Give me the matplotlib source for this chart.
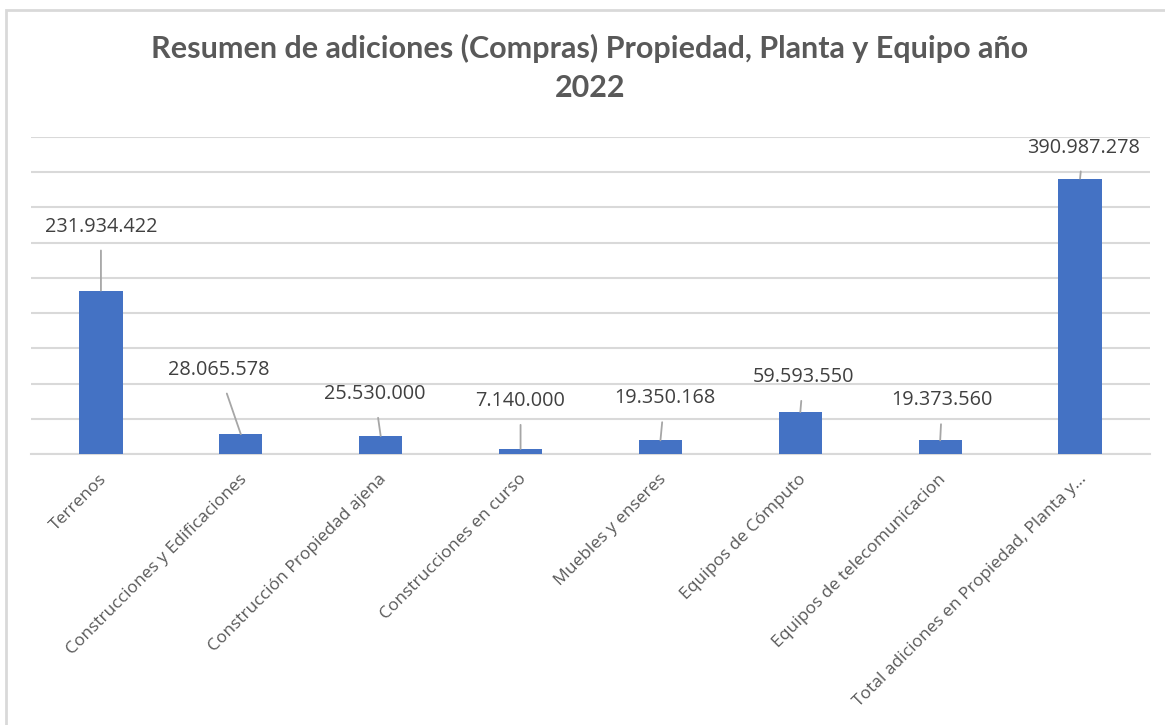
import matplotlib
matplotlib.use("Agg")
import matplotlib.pyplot as plt
import matplotlib.transforms as mtrans
from matplotlib.patches import Rectangle

categories = ["Terrenos", "Construcciones y Edificaciones", "Construcción Propiedad ajena",
              "Construcciones en curso", "Muebles y enseres", "Equipos de Cómputo",
              "Equipos de telecomunicacion", "Total adiciones en Propiedad, Planta y…"]
values = [231934422, 28065578, 25530000, 7140000, 19350168, 59593550, 19373560, 390987278]
value_labels = ["231.934.422", "28.065.578", "25.530.000", "7.140.000", "19.350.168",
                "59.593.550", "19.373.560", "390.987.278"]
title = "Resumen de adiciones (Compras) Propiedad, Planta y Equipo año\n2022"

# label offsets (pixels) from bar top: dx, dy
label_offsets = [(0, 64), (-22, 64), (-6, 42), (0, 48), (4, 42), (3, 35), (2, 40), (3, 31)]

W, H = 1165, 725
dpi = 100
fig = plt.figure(figsize=(W / dpi, H / dpi), dpi=dpi)
fig.patch.set_facecolor("white")

# outer chart border
fig.add_artist(Rectangle((6 / W, -0.1), 1.2, (H - 10) / H + 0.1, transform=fig.transFigure,
                         fill=False, edgecolor="#d9d9d9", linewidth=2))

left, right, top, bottom = 31, 1150, 137, 454
ax = fig.add_axes([left / W, 1 - bottom / H, (right - left) / W, (bottom - top) / H])
x = list(range(len(categories)))
ax.bar(x, values, width=0.31, color="#4472C4", zorder=3)
ax.set_xlim(-0.5, len(categories) - 0.5)
ax.set_ylim(0, 450_000_000)
ax.set_yticks([i * 50_000_000 for i in range(10)])
ax.yaxis.grid(True, color="#d9d9d9", linewidth=1.5, zorder=0)
ax.tick_params(axis="y", left=False, labelleft=False)
ax.tick_params(axis="x", bottom=False, length=0, pad=8)
for s in ["top", "right", "left"]:
    ax.spines[s].set_visible(False)
ax.spines["bottom"].set_color("#d9d9d9")
ax.spines["bottom"].set_linewidth(1.5)

ax.set_xticks(x)
ax.set_xticklabels(categories, rotation=45, ha="right", va="top", rotation_mode="anchor",
                   fontsize=12.5, color="#595959", family="Open Sans")
for lbl in ax.get_xticklabels():
    lbl.set_transform(lbl.get_transform() + mtrans.ScaledTranslation(-2 / dpi, -6 / dpi, fig.dpi_scale_trans))

px = 72 / dpi
for i, (v, t) in enumerate(zip(values, value_labels)):
    dx, dy = label_offsets[i]
    ax.annotate(t, xy=(i, v), xytext=(dx * px, dy * px), textcoords="offset points",
                ha="center", va="center", fontsize=14.3, color="#404040", family="Open Sans",
                arrowprops=dict(arrowstyle="-", color="#a6a6a6", lw=1.3, shrinkA=8, shrinkB=0),
                zorder=4)

fig.text(590 / W, 1 - 68 / H, title, ha="center", va="center", fontsize=22,
         fontweight="bold", color="#595959", family="Lato", linespacing=1.5)

fig.savefig("out.png", dpi=dpi, facecolor="white")
